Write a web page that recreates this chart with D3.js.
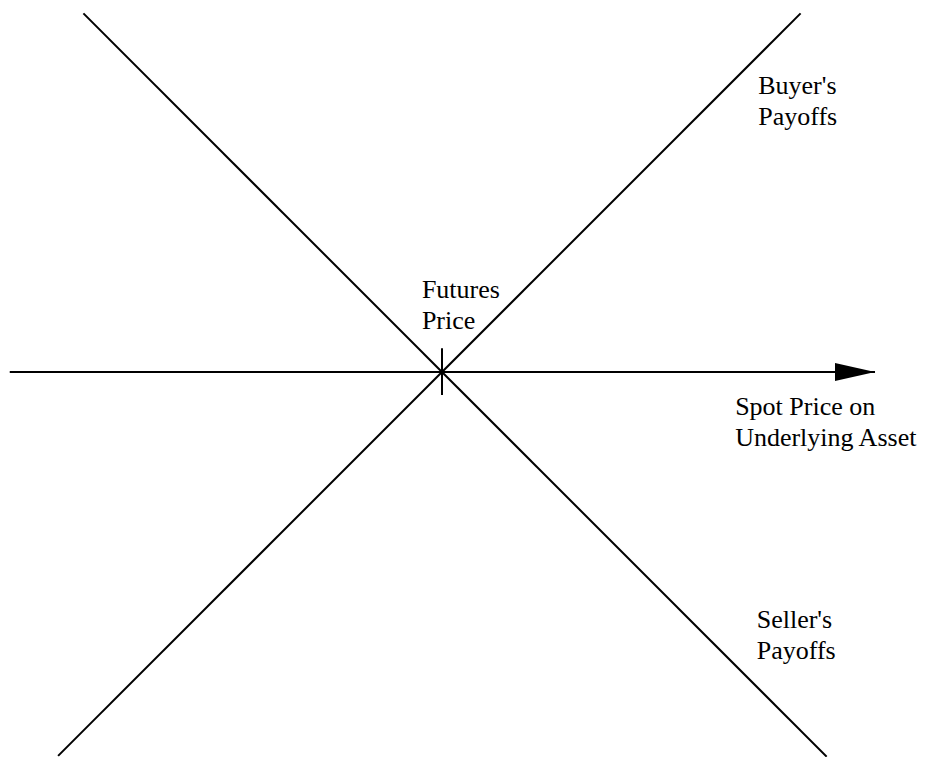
<!DOCTYPE html>
<html>
<head>
<meta charset="utf-8">
<script src="https://cdn.jsdelivr.net/npm/d3@7"></script>
<style>
  html, body { margin: 0; padding: 0; background: #fff; }
  text { font-family: "Liberation Serif", "Times New Roman", serif; font-size: 26px; fill: #000; }
</style>
</head>
<body>
<div id="chart"></div>
<script>
// futures payoff diagram, futures price at spot = 50
var futuresPrice = 50;

// [spot, payoff] end points
var buyerLine = [[-1.6, -51.6], [98.2, 48.2]];
var sellerLine = [[1.8, 48.2], [101.7, -51.7]];

// horizontal axis (spot price) and the tick at the futures price
var axisSpot = [-8.1, 108.2];
var tickPayoff = [-3.1, 3.2];

// labels: [spot, payoff] of the first baseline, lines of text
var labels = [
    { spot: 47.3, payoff: 9.95, lines: ["Futures", "Price"] },
    { spot: 89.4, payoff: -5.8, lines: ["Spot Price on", "Underlying Asset"] },
    { spot: 92.5, payoff: 37.4, lines: ["Buyer's", "Payoffs"] },
    { spot: 92.3, payoff: -34.4, lines: ["Seller's", "Payoffs"] }
];

var width = 925, height = 757;

var svg = d3.select('#chart').append('svg')
    .attr('width', width)
    .attr('height', height);

var xScale = d3.scaleLinear().domain([0, 100]).range([70, 814]);
var yScale = d3.scaleLinear().domain([-50, 50]).range([744, 0]);

svg.append('defs').append('marker')
    .attr('id', 'arrow')
    .attr('viewBox', '0 0 40 18')
    .attr('refX', 40)
    .attr('refY', 9)
    .attr('markerWidth', 40)
    .attr('markerHeight', 18)
    .attr('markerUnits', 'userSpaceOnUse')
    .attr('orient', 'auto')
    .append('path')
    .attr('d', 'M0,0L40,9L0,18Z')
    .attr('fill', '#000');

var line = d3.line()
    .x(function (d) { return xScale(d[0]); })
    .y(function (d) { return yScale(d[1]); });

// spot price axis
svg.append('line')
    .attr('x1', xScale(axisSpot[0]))
    .attr('x2', xScale(axisSpot[1]))
    .attr('y1', yScale(0))
    .attr('y2', yScale(0))
    .attr('stroke', '#000')
    .attr('stroke-width', 2)
    .attr('marker-end', 'url(#arrow)');

// futures price tick
svg.append('line')
    .attr('x1', xScale(futuresPrice))
    .attr('x2', xScale(futuresPrice))
    .attr('y1', yScale(tickPayoff[0]))
    .attr('y2', yScale(tickPayoff[1]))
    .attr('stroke', '#000')
    .attr('stroke-width', 2);

svg.selectAll('path.payoff')
    .data([buyerLine, sellerLine])
    .enter().append('path')
    .attr('class', 'payoff')
    .attr('d', line)
    .attr('fill', 'none')
    .attr('stroke', '#000')
    .attr('stroke-width', 2);

var text = svg.selectAll('text.label')
    .data(labels)
    .enter().append('text')
    .attr('class', 'label')
    .attr('x', function (d) { return xScale(d.spot); })
    .attr('y', function (d) { return yScale(d.payoff); });

text.selectAll('tspan')
    .data(function (d) { return d.lines.map(function (l) { return { t: l, x: xScale(d.spot) }; }); })
    .enter().append('tspan')
    .attr('x', function (d) { return d.x; })
    .attr('dy', function (d, i) { return i === 0 ? 0 : 31; })
    .text(function (d) { return d.t; });
</script>
</body>
</html>
